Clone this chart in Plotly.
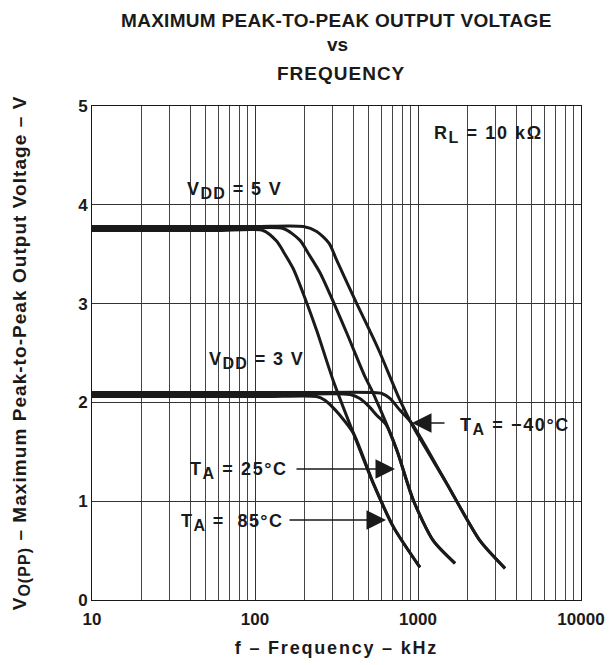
import plotly.graph_objects as go

# ---------------- data ----------------
# VDD = 5 V
f_5v_85 = [10, 30, 60, 112, 136, 150, 172, 200, 240, 302, 401, 532, 706, 1028]
v_5v_85 = [3.74, 3.74, 3.74, 3.74, 3.63, 3.52, 3.35, 3.08, 2.72, 2.22, 1.69, 1.18, 0.74, 0.33]
f_5v_25 = [10, 30, 80, 149, 189, 212, 251, 302, 366, 473, 532, 740, 936, 1241, 1687]
v_5v_25 = [3.76, 3.76, 3.76, 3.76, 3.64, 3.51, 3.31, 3.02, 2.70, 2.26, 2.09, 1.52, 1.01, 0.60, 0.37]
f_5v_m40 = [10, 30, 100, 198, 239, 285, 317, 421, 532, 585, 776, 936, 1500, 2400, 3420]
v_5v_m40 = [3.78, 3.78, 3.78, 3.78, 3.73, 3.61, 3.44, 3.00, 2.65, 2.50, 2.02, 1.75, 1.18, 0.60, 0.32]
# VDD = 3 V
f_3v_85 = [10, 40, 120, 239, 270, 300, 332, 401, 532, 706, 1028]
v_3v_85 = [2.06, 2.06, 2.06, 2.06, 2.02, 1.95, 1.87, 1.69, 1.18, 0.74, 0.33]
f_3v_25 = [10, 40, 150, 383, 440, 500, 558, 640, 740, 936, 1241, 1687]
v_3v_25 = [2.08, 2.08, 2.08, 2.08, 2.04, 1.96, 1.87, 1.77, 1.52, 1.01, 0.60, 0.37]
f_3v_m40 = [10, 40, 200, 520, 600, 673, 776, 914, 1500, 2400, 3420]
v_3v_m40 = [2.10, 2.10, 2.10, 2.10, 2.09, 2.04, 1.92, 1.79, 1.18, 0.60, 0.32]

x_tick_vals = [10, 100, 1000, 10000]
x_tick_text = ["10", "100", "1000", "10000"]
x_minor_vals = [m * d for d in (10, 100, 1000) for m in range(2, 10)]
y_tick_vals = [0, 1, 2, 3, 4, 5]

# ---------------- layout helpers (pixel -> paper) ----------------
W, H = 616, 665
X0, X1, Y0, Y1 = 92, 581, 600, 106


def px(x):
    return (x - X0) / (X1 - X0)


def py(y):
    return (Y0 - y) / (Y0 - Y1)


FONT = "Liberation Sans, Arial, Helvetica, sans-serif"
INK = "#1a1a1a"


def spaced(s, ls):
    return f'<span style="letter-spacing:{ls}px">{s}</span>'


def sub(s, size):
    return f'<sub><span style="font-size:{size}px">{s}</span></sub>'


fig = go.Figure()
curves = [
    (f_5v_85, v_5v_85), (f_5v_25, v_5v_25), (f_5v_m40, v_5v_m40),
    (f_3v_85, v_3v_85), (f_3v_25, v_3v_25), (f_3v_m40, v_3v_m40),
]
for fx, vy in curves:
    fig.add_trace(go.Scatter(
        x=fx, y=vy, mode="lines",
        line=dict(color=INK, width=3, shape="spline", smoothing=0.7),
        showlegend=False, hoverinfo="skip",
    ))

# white boxes behind labels (cover the grid)
boxes = [
    (428, 110, 560, 150),   # RL
    (170, 172, 300, 203),   # VDD 5
    (188, 340, 303, 382),   # VDD 3
    (455, 406, 577, 440),   # -40
    (180, 453, 305, 487),   # 25
    (178, 504, 305, 540),   # 85
]
shapes = []
for (a, b, c, d) in boxes:
    shapes.append(dict(type="rect", xref="paper", yref="paper",
                       x0=px(a), x1=px(c), y0=py(d), y1=py(b),
                       fillcolor="white", line=dict(width=0), layer="between"))

annots = []


def txt(x, y, s, size=18, ls=0.0):
    if ls:
        s = spaced(s, ls)
    annots.append(dict(x=px(x), y=py(y), xref="paper", yref="paper", text=s,
                       showarrow=False, xanchor="center", yanchor="middle",
                       font=dict(family=FONT, size=size, color=INK, weight="bold")))


def arrow(xt, yt, xtail):
    annots.append(dict(x=px(xt), y=py(yt), xref="paper", yref="paper", text="",
                       showarrow=True, ax=xtail - xt, ay=0, axref="pixel", ayref="pixel",
                       arrowhead=2, arrowsize=3.0, arrowwidth=1.3, arrowcolor=INK,
                       standoff=0))


# title
txt(336, 20, "MAXIMUM PEAK-TO-PEAK OUTPUT VOLTAGE", 19, 0.3)
txt(337, 45, "vs", 19)
txt(341, 73, "FREQUENCY", 19, 1.0)

txt(488, 134, "R" + sub("L", 16) + " = 10 kΩ", 18, 1.6)
txt(234, 190, "V" + sub("DD", 16) + " = 5 V", 18, 1.4)
txt(256, 360, "V" + sub("DD", 16) + " = 3 V", 18, 1.4)
txt(515, 426, "T" + sub("A", 16) + " = −40°C", 18, 1.6)
txt(239, 471, "T" + sub("A", 16) + " = 25°C", 18, 1.6)
txt(232, 522, "T" + sub("A", 16) + " =  85°C", 18, 1.4)

arrow(412, 423, 446)
arrow(395, 469, 295)
arrow(386, 520, 288)

fig.update_layout(
    width=W, height=H,
    margin=dict(l=X0, r=W - X1, t=Y1, b=H - Y0),
    paper_bgcolor="white", plot_bgcolor="white",
    shapes=shapes, annotations=annots,
    font=dict(family=FONT, size=16, color=INK, weight="bold"),
    xaxis=dict(
        type="log", range=[1, 4], tickvals=x_tick_vals, ticktext=x_tick_text,
        showgrid=True, gridcolor="#333", gridwidth=1,
        minor=dict(tickvals=x_minor_vals, showgrid=True, gridcolor="#444", gridwidth=1, ticks=""),
        showline=True, linecolor=INK, linewidth=1, mirror=True, ticks="",
        ticklabelstandoff=4,
        tickfont=dict(family=FONT, size=17, color=INK, weight="bold"),
        title=dict(text=spaced("f – Frequency – kHz", 1.8), standoff=12,
                   font=dict(family=FONT, size=18, color=INK, weight="bold")),
        zeroline=False,
    ),
    yaxis=dict(
        range=[0, 5], tickvals=y_tick_vals,
        showgrid=True, gridcolor="#333", gridwidth=1,
        showline=True, linecolor=INK, linewidth=1, mirror=True, ticks="",
        tickfont=dict(family=FONT, size=17, color=INK, weight="bold"),
        title=dict(text=spaced("V" + sub("O(PP)", 16) + " – Maximum Peak-to-Peak Output Voltage – V", 1.05),
                   standoff=46,
                   font=dict(family=FONT, size=19, color=INK, weight="bold")),
        zeroline=False,
    ),
)

fig.write_html("out.html")
